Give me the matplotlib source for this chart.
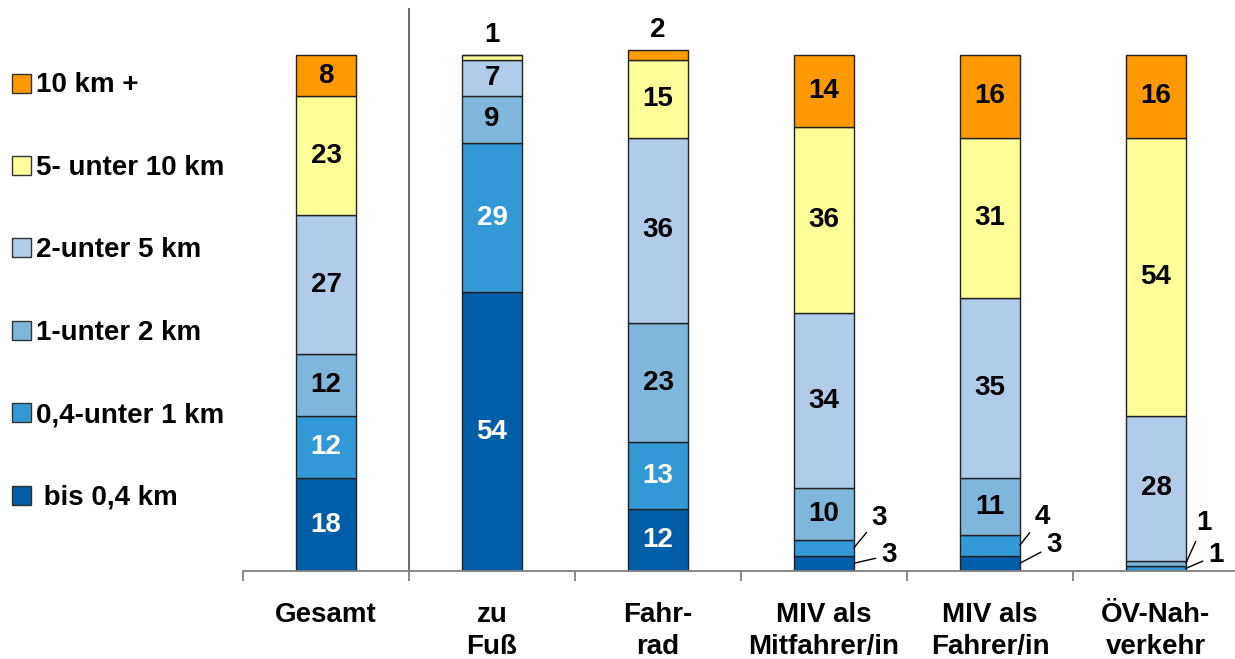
import matplotlib
matplotlib.use("Agg")
import matplotlib.pyplot as plt
from matplotlib.patches import Rectangle

categories = ["Gesamt", "zu\nFuß", "Fahr-\nrad", "MIV als\nMitfahrer/in", "MIV als\nFahrer/in", "ÖV-Nah-\nverkehr"]
series = ["bis 0,4 km", "0,4-unter 1 km", "1-unter 2 km", "2-unter 5 km", "5- unter 10 km", "10 km +"]

# percent per distance class, bottom to top
bis_04 = [18, 54, 12, 3, 3, 0]
von_04_1 = [12, 29, 13, 3, 4, 1]
von_1_2 = [12, 9, 23, 10, 11, 1]
von_2_5 = [27, 7, 36, 34, 35, 28]
von_5_10 = [23, 1, 15, 36, 31, 54]
ab_10 = [8, 0, 2, 14, 16, 16]
values = [bis_04, von_04_1, von_1_2, von_2_5, von_5_10, ab_10]

colors = ["#005EA8", "#3399D6", "#7FB6DC", "#B0CCE8", "#FFFF99", "#FF9900"]
text_colors = ["white", "white", "black", "black", "black", "black"]

# small values drawn outside with leader lines: (category, series) -> offset in px
outside = {
    (3, 1): (25, 30), (3, 0): (35, 8),
    (4, 1): (22, 28), (4, 0): (34, 18),
    (5, 2): (18, 40), (5, 1): (30, 13),
}

plt.rcParams["font.family"] = ["Liberation Sans", "DejaVu Sans"]
plt.rcParams["font.weight"] = "bold"
fs = 20

fig = plt.figure(figsize=(12.35, 6.59), dpi=100)
ax = fig.add_axes([243 / 1235, 88 / 659, 996 / 1235, 563 / 659])

w = 0.36
x = list(range(len(categories)))
bottoms = [0] * len(categories)
for s, vals in enumerate(values):
    ax.bar(x, vals, w, bottom=bottoms, color=colors[s], edgecolor="#222222", linewidth=1)
    for i, v in enumerate(vals):
        if v == 0:
            continue
        mid = bottoms[i] + v / 2
        if (i, s) in outside:
            ax.annotate(str(v), xy=(i + w / 2, mid), xytext=outside[(i, s)],
                        textcoords="offset pixels", ha="center", va="center",
                        fontsize=fs, fontweight="bold",
                        arrowprops=dict(arrowstyle="-", color="black", lw=1,
                                        shrinkA=2, shrinkB=0))
        elif v < 5:
            ax.annotate(str(v), xy=(i, bottoms[i] + v), xytext=(0, 20),
                        textcoords="offset pixels", ha="center", va="center",
                        fontsize=fs, fontweight="bold")
        else:
            ax.text(i, mid, str(v), ha="center", va="center", fontsize=fs,
                    fontweight="bold", color=text_colors[s])
    bottoms = [b + v for b, v in zip(bottoms, vals)]

ax.set_xlim(-0.5, len(categories) - 0.5)
ax.set_ylim(0, 563 / 516 * 100)
for side in ["left", "right", "top"]:
    ax.spines[side].set_visible(False)
ax.spines["bottom"].set_color("#808080")
ax.spines["bottom"].set_linewidth(1.3)
ax.set_yticks([])
ax.set_xticks(x)
ax.set_xticklabels(categories, fontsize=fs, fontweight="bold", linespacing=1.3)
ax.tick_params(axis="x", which="major", length=0, pad=22)
ax.set_xticks([i - 0.5 for i in range(len(categories) + 1)], minor=True)
ax.tick_params(axis="x", which="minor", length=7, width=1.3, color="#808080")
ax.axvline(0.5, color="#606060", lw=1.3)

# legend on the left, top entry first
for k, s in enumerate(reversed(range(len(series)))):
    yc = 659 - (83 + k * 82.4)
    fig.patches.append(Rectangle((12 / 1235, (yc - 9.5) / 659), 19 / 1235, 19 / 659,
                                 transform=fig.transFigure, facecolor=colors[s],
                                 edgecolor="#333333", lw=1))
    label = series[s] if s > 0 else " " + series[s]
    fig.text(36 / 1235, (yc - 2.5) / 659, label, ha="left", va="center", fontsize=fs,
             fontweight="bold")

fig.savefig("out.png", dpi=100)
